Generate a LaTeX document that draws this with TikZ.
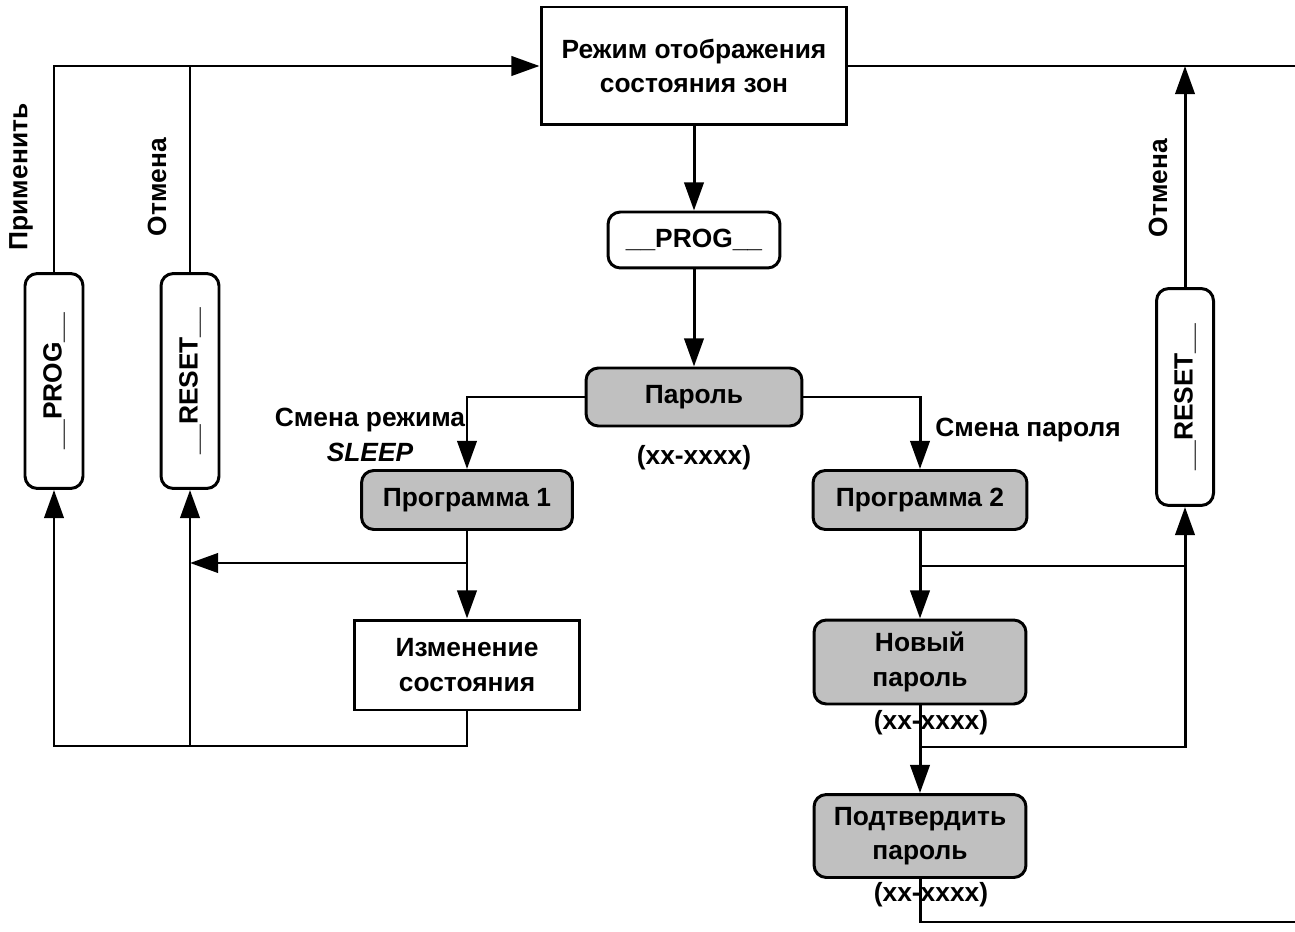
\documentclass[tikz,border=0pt]{standalone}
\usepackage{fontspec}
\setmainfont{Liberation Sans}
\usetikzlibrary{arrows.meta}
\definecolor{fondgris}{HTML}{C0C0C0}
\tikzset{
  rectbox/.style={draw, line width=1.7pt, align=center, inner sep=0pt},
  roundbox/.style={rectbox, rounded corners=7pt},
  greybox/.style={roundbox, fill=fondgris},
  flow/.style={line width=1.7pt, -{Triangle[length=16pt,width=11pt]}}
}
\newcommand{\souligne}[1]{\_\_#1\_\_}

\begin{document}
\begin{tikzpicture}[x=0.02cm, y=-0.02cm, line width=1.7pt,
    font=\fontsize{15}{19.5}\selectfont\bfseries]
  \useasboundingbox (0,0) rectangle (1295,932);

  \node[rectbox, minimum width=6.12cm, minimum height=2.36cm] (mode) at (694,66) {Режим отображения\\состояния зон};
  \node[roundbox, minimum width=3.44cm, minimum height=1.12cm] (prog) at (694,240) {\souligne{PROG}};
  \node[greybox, minimum width=4.32cm, minimum height=1.16cm] (pass) at (694,397) {Пароль};
  \node (code) at (694,458) {(xx-xxxx)};

  \node[greybox, minimum width=4.22cm, minimum height=1.18cm] (p1) at (467,500) {Программа 1};
  \node[greybox, minimum width=4.28cm, minimum height=1.18cm] (p2) at (920,500) {Программа 2};
  \node[rectbox, minimum width=4.5cm, minimum height=1.8cm] (chg) at (467,665) {Изменение\\состояния};
  \node[greybox, minimum width=4.24cm, minimum height=1.68cm] (newp) at (920,662) {Новый\\пароль};
  \node (code2) at (931,723) {(xx-xxxx)};
  \node[greybox, minimum width=4.24cm, minimum height=1.66cm] (conf) at (920,836) {Подтвердить\\пароль};
  \node (code3) at (931,895) {(xx-xxxx)};

  \node[roundbox, rotate=90, minimum width=4.3cm, minimum height=1.16cm] (lprog) at (54,381) {\souligne{PROG}};
  \node[roundbox, rotate=90, minimum width=4.3cm, minimum height=1.16cm] (lreset) at (190,381) {\souligne{RESET}};
  \node[roundbox, rotate=90, minimum width=4.34cm, minimum height=1.14cm] (rreset) at (1185,397) {\souligne{RESET}};

  \node[rotate=90] (apply) at (21,177) {Применить};
  \node[rotate=90] (cancel1) at (157,187) {Отмена};
  \node[rotate=90] (cancel2) at (1158,188) {Отмена};
  \node[align=center] (sleep) at (370,435) {Смена режима\\\textit{SLEEP}};
  \node[anchor=west] (newlbl) at (928,430) {Смена пароля};

  \coordinate (edgetop) at (1295,66);
  \coordinate (edgebot) at (1295,922);
  \coordinate (j1) at (467,563);
  \coordinate (bl) at (54,746);
  \coordinate (j2) at (920,566);
  \coordinate (j3) at (920,747);

  \draw[flow] (lprog.east) |- (mode.west);
  \draw (lreset.east) -- (lreset.east |- mode.west);
  \draw (mode.east) -- (edgetop);
  \draw[flow] (rreset.east) -- (rreset.east |- mode.east);

  \draw[flow] (mode) -- (prog);
  \draw[flow] (prog) -- (pass);
  \draw[flow] (pass.west) -| (p1.north);
  \draw[flow] (pass.east) -| (p2.north);

  \draw[flow] (p1) -- (chg);
  \draw[flow] (j1) -- (j1 -| lreset);
  \draw[flow] (chg.south) |- (bl) -- (lprog.west);
  \draw[flow] (lreset.west |- bl) -- (lreset.west);

  \draw[flow] (p2) -- (newp);
  \draw[flow] (newp) -- (conf);
  \draw[flow] (j3) -| (rreset.west);
  \draw (j2) -- (j2 -| rreset);
  \draw (conf.south) |- (edgebot);
\end{tikzpicture}
\end{document}
